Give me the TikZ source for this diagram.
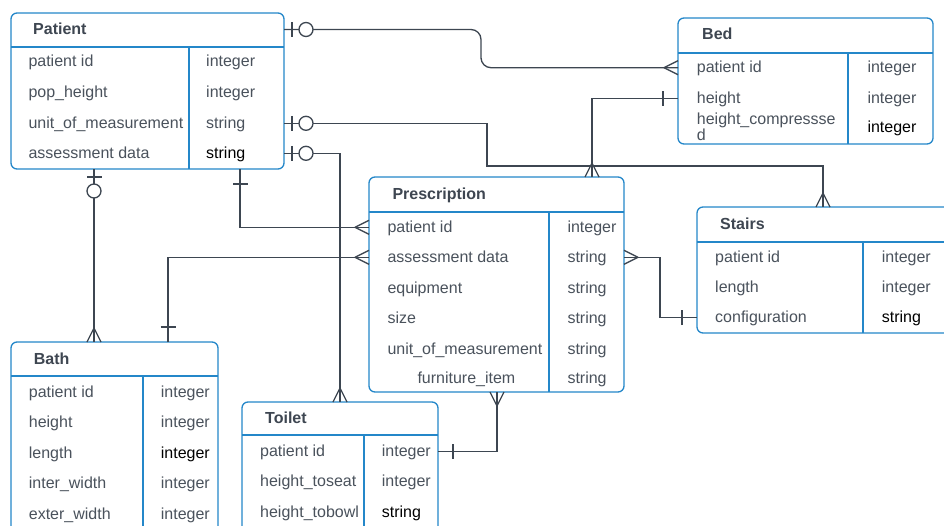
\documentclass[tikz,border=0pt]{standalone}
\usepackage{fontspec}
\setmainfont{Liberation Sans}
\definecolor{erblue}{HTML}{2487C9}
\definecolor{txtgray}{HTML}{4A525C}
\definecolor{ttlgray}{HTML}{3E4651}
\definecolor{lnk}{HTML}{3D4651}
\begin{document}
\begin{tikzpicture}[x=1pt,y=-1pt,
  tbl/.style={draw=erblue, fill=white, line width=1.3pt, rounded corners=6pt,
    anchor=north west, inner sep=0pt, outer sep=0pt},
  rule/.style={draw=erblue, line width=1.3pt},
  ttl/.style={anchor=base west, inner sep=0pt, text height=10pt, text depth=0pt,
    text=ttlgray, font=\bfseries\fontsize{16}{19}\selectfont},
  fld/.style={anchor=base west, inner sep=0pt, text height=10pt, text depth=0pt,
    text=txtgray, font=\fontsize{16}{19}\selectfont},
  dark/.style={text=black},
  conn/.style={draw=lnk, line width=1.3pt},
  crow/.pic={\draw[conn] (14,0) -- (0,7) (14,0) -- (0,-7);},
  one/.pic={\draw[conn] (15,-7.5) -- (15,7.5);},
  zeroone/.pic={\draw[conn] (8,-7.5) -- (8,7.5); \draw[conn,fill=white] (22,0) circle (7);},
]
\useasboundingbox (0,0) rectangle (944,525);
\clip (0,0) rectangle (944,525);

% ---------- Patient ----------
\node[tbl, minimum width=273pt, minimum height=156pt] (patient) at (11,13) {};
\draw[rule] (11,47) -- (284,47) (189,47) -- (189,169);
\node[ttl] (pat-t) at (33,34.5) {Patient};
\node[fld] (pat-id) at (28.3,66.5) {patient id};
\node[fld] at (206,66.5) {integer};
\node[fld] (pat-ph) at (28.3,97.5) {pop\_height};
\node[fld] at (206,97.5) {integer};
\node[fld] (pat-unit) at (28.3,128.3) {unit\_of\_measurement};
\node[fld] at (206,128.3) {string};
\node[fld] (pat-ad) at (28.3,158.3) {assessment data};
\node[fld,dark] at (206,158.3) {string};

% ---------- Bed ----------
\node[tbl, minimum width=255pt, minimum height=126pt] (bed) at (678,18) {};
\draw[rule] (678,53) -- (933,53) (848,53) -- (848,144);
\node[ttl] at (702,39) {Bed};
\node[fld] (bed-id) at (696.7,72.7) {patient id};
\node[fld] at (867.3,72.7) {integer};
\node[fld] (bed-h) at (696.7,103.3) {height};
\node[fld] at (867.3,103.3) {integer};
% the long field name wraps onto a second line
\node[fld] (bed-hc) at (696.7,124) {height\_compressse};
\node[fld] (bed-hc2) at (696.7,140) {d};
\node[fld,dark] at (867.3,132.7) {integer};

% ---------- Prescription ----------
\node[tbl, minimum width=255pt, minimum height=215pt] (prescription) at (369,177) {};
\draw[rule] (369,212) -- (624,212) (549,212) -- (549,392);
\node[ttl] at (392.3,199.3) {Prescription};
\node[fld] (pr-id) at (387.3,232.3) {patient id};
\node[fld] at (567.3,232.3) {integer};
\node[fld] (pr-ad) at (387.3,262.3) {assessment data};
\node[fld] at (567.3,262.3) {string};
\node[fld] (pr-eq) at (387.3,293.3) {equipment};
\node[fld] at (567.3,293.3) {string};
\node[fld] (pr-sz) at (387.3,323.3) {size};
\node[fld] at (567.3,323.3) {string};
\node[fld] (pr-unit) at (387.3,354) {unit\_of\_measurement};
\node[fld] at (567.3,354) {string};
\node[fld] (pr-fi) at (417.3,383.3) {furniture\_item};
\node[fld] at (567.3,383.3) {string};

% ---------- Stairs ----------
\node[tbl, minimum width=270pt, minimum height=126pt] (stairs) at (697,207) {};
\draw[rule] (697,242) -- (967,242) (863,242) -- (863,333);
\node[ttl] at (720,229) {Stairs};
\node[fld] (st-id) at (715,262.3) {patient id};
\node[fld] at (881.7,262.3) {integer};
\node[fld] (st-len) at (715,292.3) {length};
\node[fld] at (881.7,292.3) {integer};
\node[fld] (st-cf) at (715,322.7) {configuration};
\node[fld,dark] at (881.7,322.7) {string};

% ---------- Bath ----------
\node[tbl, minimum width=207pt, minimum height=200pt] (bath) at (11,342) {};
\draw[rule] (11,376) -- (218,376) (143,376) -- (143,542);
\node[ttl] at (33.7,364) {Bath};
\node[fld] (ba-id) at (28.7,397.3) {patient id};
\node[fld] at (160.7,397.3) {integer};
\node[fld] (ba-h) at (28.7,427.3) {height};
\node[fld] at (160.7,427.3) {integer};
\node[fld] (ba-len) at (28.7,458.3) {length};
\node[fld,dark] at (160.7,458.3) {integer};
\node[fld] (ba-iw) at (28.7,488.3) {inter\_width};
\node[fld] at (160.7,488.3) {integer};
\node[fld] (ba-ew) at (28.7,519) {exter\_width};
\node[fld] at (160.7,519) {integer};

% ---------- Toilet ----------
\node[tbl, minimum width=196pt, minimum height=140pt] (toilet) at (242,402) {};
\draw[rule] (242,435) -- (438,435) (364,435) -- (364,542);
\node[ttl] at (265,423.3) {Toilet};
\node[fld] (to-id) at (260,456.7) {patient id};
\node[fld] at (381.7,456.7) {integer};
\node[fld] (to-hs) at (260,486.7) {height\_toseat};
\node[fld] at (381.7,486.7) {integer};
\node[fld] (to-hb) at (260,517.3) {height\_tobowl};
\node[fld,dark] at (381.7,517.3) {string};

% ---------- relationships ----------
\coordinate (j1) at (481,49);
\coordinate (j2) at (487,145);
\coordinate (j3) at (823,166);
\coordinate (j5) at (660,290);

% Patient -- Bed
\draw[conn, rounded corners=10pt] (patient.east |- pat-t) -| (j1) |- (bed.west |- bed-id);
\pic at (patient.east |- pat-t) {zeroone};
\pic[rotate=180] at (bed.west |- bed-id) {crow};

% Patient -- Stairs
\draw[conn] (patient.east |- pat-unit) -| (j2) |- (j3) -- (j3 |- stairs.north);
\pic at (patient.east |- pat-unit) {zeroone};
\pic[rotate=90] at (j3 |- stairs.north) {crow};

% Patient -- Toilet
\draw[conn] (patient.east |- pat-ad) -| ([xshift=98pt]toilet.north west);
\pic at (patient.east |- pat-ad) {zeroone};
\pic[rotate=90] at ([xshift=98pt]toilet.north west) {crow};

% Patient -- Prescription
\draw[conn] ([xshift=229pt]patient.south west) |- (prescription.west |- pr-id);
\pic[rotate=-90] at ([xshift=229pt]patient.south west) {one};
\pic[rotate=180] at (prescription.west |- pr-id) {crow};

% Bath -- Prescription
\draw[conn] ([xshift=157pt]bath.north west) |- (prescription.west |- pr-ad);
\pic[rotate=90] at ([xshift=157pt]bath.north west) {one};
\pic[rotate=180] at (prescription.west |- pr-ad) {crow};

% Patient -- Bath
\draw[conn] ([xshift=83pt]patient.south west) -- ([xshift=83pt]bath.north west);
\pic[rotate=-90] at ([xshift=83pt]patient.south west) {zeroone};
\pic[rotate=90] at ([xshift=83pt]bath.north west) {crow};

% Prescription -- Stairs
\draw[conn] (prescription.east |- pr-ad) -| (j5) |- (stairs.west |- st-cf);
\pic at (prescription.east |- pr-ad) {crow};
\pic[rotate=180] at (stairs.west |- st-cf) {one};

% Prescription -- Toilet
\draw[conn] ([xshift=128pt]prescription.south west) |- (toilet.east |- to-id);
\pic[rotate=-90] at ([xshift=128pt]prescription.south west) {crow};
\pic at (toilet.east |- to-id) {one};

% Bed -- Prescription
\draw[conn] (bed.west |- bed-h) -| ([xshift=223pt]prescription.north west);
\pic[rotate=180] at (bed.west |- bed-h) {one};
\pic[rotate=90] at ([xshift=223pt]prescription.north west) {crow};
\end{tikzpicture}
\end{document}
